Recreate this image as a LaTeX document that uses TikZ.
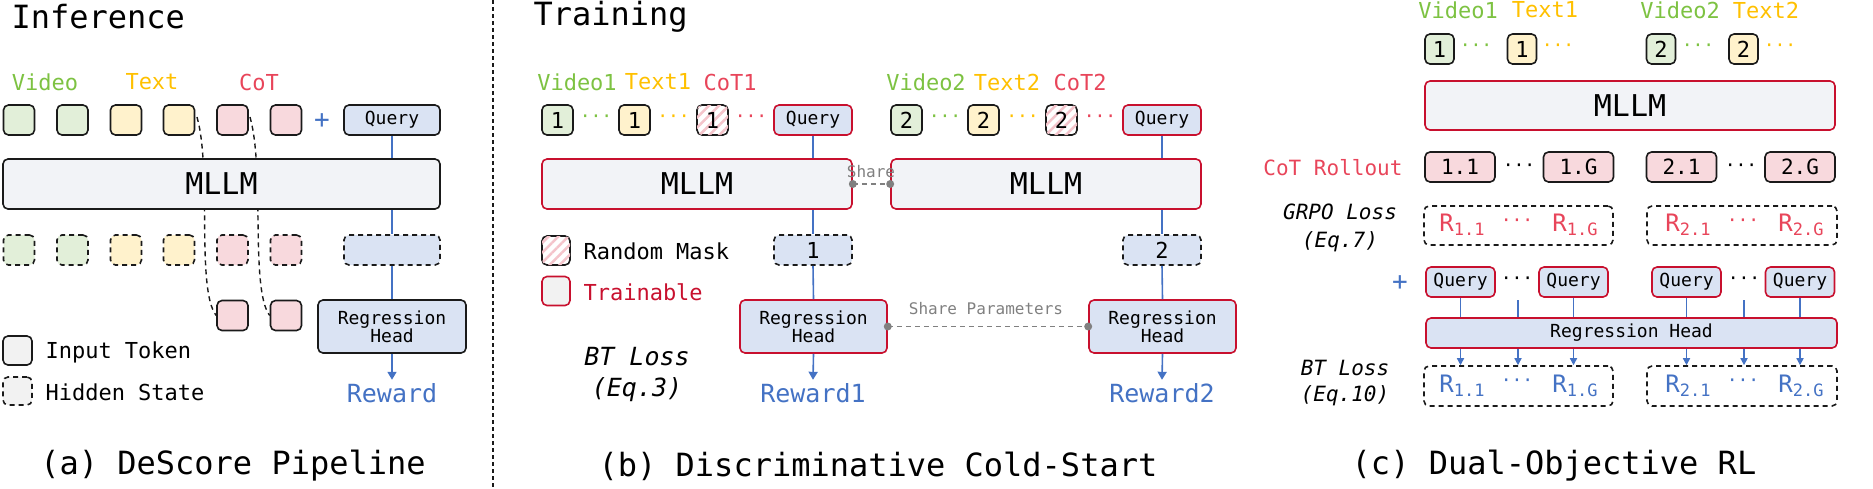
\documentclass[tikz,border=0pt]{standalone}
\usepackage{fontspec}
\setmainfont{DejaVu Sans Mono}
\usetikzlibrary{arrows.meta,patterns.meta}
\definecolor{dk}{HTML}{1A1A1A}
\definecolor{gfill}{HTML}{E2EFD9}
\definecolor{yfill}{HTML}{FFF2CC}
\definecolor{pfill}{HTML}{F8D9DD}
\definecolor{pstripe}{HTML}{F4C4CB}
\definecolor{qfill}{HTML}{DAE3F3}
\definecolor{mfill}{HTML}{F2F3F7}
\definecolor{lfill}{HTML}{F2F2F2}
\definecolor{trn}{HTML}{C8102E}
\definecolor{lgreen}{HTML}{7DC242}
\definecolor{lyellow}{HTML}{FFC000}
\definecolor{lred}{HTML}{E8455A}
\definecolor{blu}{HTML}{4472C4}
\definecolor{gry}{HTML}{808080}
\newcommand{\fs}[1]{\fontsize{#1}{#1}\selectfont}
\newcommand{\Rsub}[2]{R\raisebox{-0.3ex}{\fs{17}#1.#2}}
\tikzset{
  box/.style={draw=dk, line width=1.6, rounded corners=5, inner sep=0, align=center},
  tok/.style={box, minimum width=31, minimum height=30, font=\fs{22}},
  dsh/.style={dash pattern=on 5pt off 4pt},
  hid/.style={tok, dsh},
  trainb/.style={draw=trn},
  lab/.style={font=\fs{22}},
  captext/.style={font=\fs{32}},
  ttl/.style={font=\fs{32}, anchor=west},
  blue line/.style={draw=blu, line width=1.6},
  blue arr/.style={blue line, -{Triangle[width=9pt,length=8pt]}},
  share/.style={draw=gry, line width=1.6, dsh},
  sdot/.style={circle, fill=gry, inner sep=0, minimum size=8},
  dots/.style={font=\fs{18}},
  it/.style={font=\fs{25}\itshape},
  mask/.style={postaction={pattern={Lines[angle=45,distance=7pt,line width=2.5pt]}, pattern color=pstripe}},
}
\begin{document}
\begin{tikzpicture}[x=1pt,y=-1pt]
\useasboundingbox (0,0) rectangle (1873,488);
% ================= (a) =================
\node[ttl] (tA) at (8,17) {Inference};
\node[lab, text=lgreen] (lv) at (45,82) {Video};
\node[lab, text=lyellow] (lt) at (152,82) {Text};
\node[lab, text=lred] (lc) at (259,82) {CoT};
\node[tok, fill=pfill] (l1) at (232.5,315.5) {};
\node[tok, fill=pfill] (l2) at (286,315.5) {};
\coordinate (c1) at (197,117);
\coordinate (c2) at (250,117);
\draw[dk, line width=1.4, dsh] (c1) .. controls (212,170) and (196,290) .. (l1.west);
\draw[dk, line width=1.4, dsh] (c2) .. controls (265,170) and (250,290) .. (l2.west);
\node[tok, fill=gfill] (a1) at (19,120) {};
\node[tok, fill=gfill] (a2) at (72.5,120) {};
\node[tok, fill=yfill] (a3) at (126,120) {};
\node[tok, fill=yfill] (a4) at (179,120) {};
\node[tok, fill=pfill] (a5) at (232.5,120) {};
\node[tok, fill=pfill] (a6) at (286,120) {};
\node[font=\fs{26}, text=blu] (plusA) at (322,121) {+};
\node[box, fill=qfill, minimum width=96, minimum height=30, font=\fs{18}] (qA) at (392,120) {Query};
\node[hid, fill=gfill] (h1) at (19,250) {};
\node[hid, fill=gfill] (h2) at (72.5,250) {};
\node[hid, fill=yfill] (h3) at (126,250) {};
\node[hid, fill=yfill] (h4) at (179,250) {};
\node[hid, fill=pfill] (h5) at (232.5,250) {};
\node[hid, fill=pfill] (h6) at (286,250) {};
\node[hid, fill=qfill, minimum width=96] (hq) at (392,250) {};
\node[box, fill=qfill, minimum width=148, minimum height=53, font=\fs{18}] (rhA) at (392,326.5) {Regression\\Head};
\draw[blue line] (qA.south) -- (hq.north);
\draw[blue line] (hq.south) -- (rhA.north);
\node[box, fill=mfill, minimum width=437, minimum height=50, font=\fs{30}] (mA) at (221.5,184) {MLLM};
\node[font=\fs{25}, text=blu] (rwA) at (392,393) {Reward};
\draw[blue arr] (rhA.south) -- (rwA.north);
\node[box, fill=lfill, minimum width=29, minimum height=29] (legI) at (17.5,350.5) {};
\node[lab, anchor=west] (legIt) at (42,352) {Input Token};
\node[box, dsh, fill=lfill, minimum width=29, minimum height=28] (legH) at (17.5,391) {};
\node[lab, anchor=west] (legHt) at (42,392) {Hidden State};
\node[captext] (capA) at (233,466) {(a) DeScore Pipeline};
\coordinate (d1) at (493,0);
\coordinate (d2) at (493,488);
\draw[dk, line width=1.3, dash pattern=on 4pt off 3pt] (d1) -- (d2);
% ================= (b) =================
\node[ttl] (tB) at (530,17) {Training};
\node[lab, text=lgreen] (bv1) at (577,82) {Video1};
\node[lab, text=lyellow] (bt1) at (658,82) {Text1};
\node[lab, text=lred] (bc1) at (730,82) {CoT1};
\node[lab, text=lgreen] (bv2) at (926,82) {Video2};
\node[lab, text=lyellow] (bt2) at (1007,82) {Text2};
\node[lab, text=lred] (bc2) at (1080,82) {CoT2};
\foreach \o/\n/\q in {0/1/1, 349/2/2}{
  \node[tok, fill=gfill] (bg\q) at (557.5+\o,120) {\n};
  \node[dots, text=lgreen] (bdg\q) at (596+\o,119) {···};
  \node[tok, fill=yfill] (by\q) at (634.5+\o,120) {\n};
  \node[dots, text=lyellow] (bdy\q) at (673.5+\o,119) {···};
  \node[tok, fill=white, mask] (bm\q) at (712.5+\o,120) {\n};
  \node[dots, text=lred] (bdm\q) at (751+\o,119) {···};
  \node[box, trainb, fill=qfill, minimum width=78, minimum height=30, font=\fs{18}] (bq\q) at (813+\o,120) {Query};
  \node[hid, fill=qfill, minimum width=78] (bh\q) at (813+\o,250) {\n};
  \node[box, trainb, fill=qfill, minimum width=147, minimum height=53, font=\fs{18}] (brh\q) at (813.5+\o,326.5) {Regression\\Head};
  \draw[blue line] (bq\q.south) -- (bh\q.north);
  \draw[blue line] (bh\q.south) -- (brh\q.north);
  \node[box, trainb, fill=mfill, minimum width=310, minimum height=50, font=\fs{30}] (bM\q) at (697+\o,184) {MLLM};
  \node[font=\fs{25}, text=blu] (brw\q) at (813+\o,393) {Reward\n};
  \draw[blue arr] (brh\q.south) -- (brw\q.north);
}
\draw[share] (bM1.east) -- (bM2.west);
\node[sdot] (sd1) at (bM1.east) {};
\node[sdot] (sd2) at (bM2.west) {};
\node[font=\fs{16}, text=gry] (shl) at (871,172) {Share};
\draw[share] (brh1.east) -- (brh2.west);
\node[sdot] (sd3) at (brh1.east) {};
\node[sdot] (sd4) at (brh2.west) {};
\node[font=\fs{16}, text=gry] (spl) at (986,309) {Share Parameters};
\node[box, fill=white, mask, minimum width=28, minimum height=29] (legM) at (556,250.5) {};
\node[lab, anchor=west] (legMt) at (580,251) {Random Mask};
\node[box, trainb, fill=lfill, minimum width=28, minimum height=29] (legT) at (556,291) {};
\node[lab, anchor=west, text=trn] (legTt) at (580,292) {Trainable};
\node[it] (btl) at (637,357) {BT Loss};
\node[it] (bte) at (637,390) {(Eq.3)};
\node[captext] (capB) at (878,466) {(b) Discriminative Cold-Start};
% ================= (c) =================
\node[lab, text=lgreen] (cv1) at (1458,10) {Video1};
\node[lab, text=lyellow] (ct1) at (1545,10) {Text1};
\node[lab, text=lgreen] (cv2) at (1680,10) {Video2};
\node[lab, text=lyellow] (ct2) at (1766,10) {Text2};
\node[tok, fill=gfill, minimum width=29] (cg1) at (1439.5,49) {1};
\node[dots, text=lgreen] (cdg1) at (1476,48) {···};
\node[tok, fill=yfill, minimum width=29] (cy1) at (1522,49) {1};
\node[dots, text=lyellow] (cdy1) at (1558,48) {···};
\node[tok, fill=gfill, minimum width=29] (cg2) at (1661,49) {2};
\node[dots, text=lgreen] (cdg2) at (1698,48) {···};
\node[tok, fill=yfill, minimum width=29] (cy2) at (1743.5,49) {2};
\node[dots, text=lyellow] (cdy2) at (1780,48) {···};
\node[box, trainb, fill=mfill, minimum width=410, minimum height=49, font=\fs{30}] (cM) at (1630,105.5) {MLLM};
\node[font=\fs{21}, text=lred, anchor=east] (cot) at (1406,168) {CoT Rollout};
\node[tok, fill=pfill, minimum width=70, font=\fs{21}] (r11) at (1460,167) {1.1};
\node[dots] (rd1) at (1519,168) {···};
\node[tok, fill=pfill, minimum width=70, font=\fs{21}] (r1G) at (1578.5,167) {1.G};
\node[tok, fill=pfill, minimum width=70, font=\fs{21}] (r21) at (1681.5,167) {2.1};
\node[dots] (rd2) at (1741,168) {···};
\node[tok, fill=pfill, minimum width=70, font=\fs{21}] (r2G) at (1800,167) {2.G};
\node[font=\fs{21}\itshape] (gl) at (1340,212) {GRPO Loss};
\node[font=\fs{21}\itshape] (ge) at (1340,242) {(Eq.7)};
\node[box, dsh, minimum width=189, minimum height=39] (gb1) at (1518.5,225.5) {};
\node[box, dsh, minimum width=190, minimum height=39] (gb2) at (1742,225.5) {};
\node[font=\fs{24}, text=lred] (g11) at (1462,225) {\Rsub{1}{1}};
\node[dots, text=lred] (gd1) at (1517,223) {···};
\node[font=\fs{24}, text=lred] (g1G) at (1575,225) {\Rsub{1}{G}};
\node[font=\fs{24}, text=lred] (g21) at (1688,225) {\Rsub{2}{1}};
\node[dots, text=lred] (gd2) at (1743,223) {···};
\node[font=\fs{24}, text=lred] (g2G) at (1801,225) {\Rsub{2}{G}};
\node[font=\fs{26}, text=blu] (plusC) at (1400,283) {+};
\node[box, trainb, fill=qfill, minimum width=69, minimum height=30, font=\fs{18}] (cq1) at (1460.5,282) {Query};
\node[dots] (qd1) at (1517,281) {···};
\node[box, trainb, fill=qfill, minimum width=69, minimum height=30, font=\fs{18}] (cq2) at (1573.5,282) {Query};
\node[box, trainb, fill=qfill, minimum width=69, minimum height=30, font=\fs{18}] (cq3) at (1686.5,282) {Query};
\node[dots] (qd2) at (1744,281) {···};
\node[box, trainb, fill=qfill, minimum width=69, minimum height=30, font=\fs{18}] (cq4) at (1800,282) {Query};
\node[box, trainb, fill=qfill, minimum width=411, minimum height=30, font=\fs{18}] (crh) at (1631.5,333) {Regression Head};
\node[font=\fs{21}\itshape] (bl) at (1345,368) {BT Loss};
\node[font=\fs{21}\itshape] (be) at (1345,396) {(Eq.10)};
\node[box, dsh, minimum width=189, minimum height=40] (bb1) at (1518.5,386) {};
\node[box, dsh, minimum width=190, minimum height=40] (bb2) at (1742,386) {};
\node[font=\fs{24}, text=blu] (b11) at (1462,386) {\Rsub{1}{1}};
\node[dots, text=blu] (bd1) at (1517,383) {···};
\node[font=\fs{24}, text=blu] (b1G) at (1575,386) {\Rsub{1}{G}};
\node[font=\fs{24}, text=blu] (b21) at (1688,386) {\Rsub{2}{1}};
\node[dots, text=blu] (bd2) at (1743,383) {···};
\node[font=\fs{24}, text=blu] (b2G) at (1801,386) {\Rsub{2}{G}};
\coordinate (m1) at (1518,300);
\coordinate (m2) at (1744,300);
\foreach \n in {cq1,cq2,cq3,cq4}{
  \draw[blue line] (\n.south) -- (\n.south |- crh.north);
}
\foreach \n in {m1,m2}{
  \draw[blue line] (\n) -- (\n |- crh.north);
}
\foreach \n in {cq1,m1,cq2}{
  \draw[blue line, -{Triangle[width=7pt,length=7pt]}] (\n |- crh.south) -- (\n |- bb1.north);
}
\foreach \n in {cq3,m2,cq4}{
  \draw[blue line, -{Triangle[width=7pt,length=7pt]}] (\n |- crh.south) -- (\n |- bb2.north);
}
\node[captext] (capC) at (1554,466) {(c) Dual-Objective RL};
\end{tikzpicture}
\end{document}
